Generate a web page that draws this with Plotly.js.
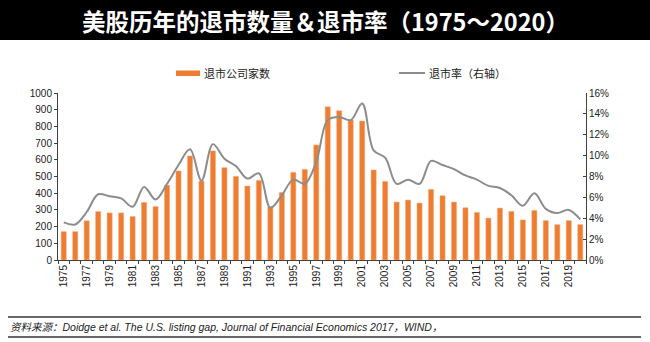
<!DOCTYPE html>
<html>
<head>
<meta charset="utf-8">
<script src="https://cdn.plot.ly/plotly-3.0.1.min.js"></script>
<style>
html,body{margin:0;padding:0;background:#fff;}
#chart{width:650px;height:342px;}
</style>
</head>
<body>
<div id="chart"></div>
<script>
// ---- data ----
var years = [1975,1976,1977,1978,1979,1980,1981,1982,1983,1984,1985,1986,1987,1988,1989,1990,1991,1992,1993,1994,1995,1996,1997,1998,1999,2000,2001,2002,2003,2004,2005,2006,2007,2008,2009,2010,2011,2012,2013,2014,2015,2016,2017,2018,2019,2020];
var delistCount = [170,170,235,290,282,282,260,345,320,448,533,623,473,653,553,501,443,477,319,405,525,543,689,918,894,838,832,539,471,347,359,341,423,385,347,313,285,251,311,291,240,297,236,212,236,212];
var delistRatePct = [3.6,3.4,4.6,6.3,6.1,5.9,5.1,7.0,5.8,7.3,9.1,10.6,7.6,11.1,9.7,9.0,7.8,8.3,5.0,6.2,7.7,7.3,9.4,13.4,13.7,13.4,15.0,10.5,9.8,7.3,7.7,7.3,9.5,9.1,8.7,8.1,7.7,7.1,6.9,6.2,5.2,6.4,4.9,4.5,4.8,3.9];
var labelYears = [1975,1977,1979,1981,1983,1985,1987,1989,1991,1993,1995,1997,1999,2001,2003,2005,2007,2009,2011,2013,2015,2017,2019];
var titleText = '美股历年的退市数量＆退市率（1975～2020）';
var barName = '退市公司家数';
var lineName = '退市率（右轴）';
var sourceText = '资料来源：Doidge et al. The U.S. listing gap, Journal of Financial Economics 2017，WIND，';

var delistRate = delistRatePct.map(function(v){return v/100;});

// ---- layout helpers (pixel -> paper) ----
var W = 650, H = 342, ML = 58, MR = 64, MT = 93, MB = 82;
var PW = W - ML - MR, PH = H - MT - MB;
function px(x){return (x - ML)/PW;}
function py(y){return (H - MB - y)/PH;}

var tickFont = {family:'Liberation Sans, Arial, sans-serif', size:10, color:'#222'};
var cjk = 'Noto Sans CJK SC, sans-serif';

var traces = [
  {type:'bar', x:years, y:delistCount, name:barName, width:0.45,
   marker:{color:'#ED7D31', line:{color:'#F4B183', width:0.5}}, hoverinfo:'x+y'},
  {type:'scatter', mode:'lines', x:years, y:delistRate, name:lineName, yaxis:'y2',
   line:{color:'#8C8C8C', width:2, shape:'spline', smoothing:1}}
];

var layout = {
  width:W, height:H,
  margin:{l:ML, r:MR, t:MT, b:MB, pad:0},
  paper_bgcolor:'#fff', plot_bgcolor:'#fff',
  showlegend:false,
  xaxis:{range:[1974.5,2020.5], tickvals:labelYears, ticktext:labelYears.map(String),
    tickangle:-90, tickfont:tickFont, ticks:'', showgrid:false, zeroline:false,
    showline:true, linecolor:'#404040', linewidth:1,
    minor:{ticks:'outside', tick0:1974.5, dtick:1, ticklen:3, tickcolor:'#404040', showgrid:false}},
  yaxis:{range:[0,1000], dtick:100, tickfont:tickFont, ticks:'outside', ticklen:3,
    tickcolor:'#404040', showline:true, linecolor:'#404040', linewidth:1,
    showgrid:false, zeroline:false, fixedrange:true},
  yaxis2:{range:[0,0.16], dtick:0.02, tickformat:'.0%', overlaying:'y', side:'right',
    tickfont:tickFont, ticks:'inside', ticklen:3, tickcolor:'#404040',
    showline:true, linecolor:'#404040', linewidth:1, showgrid:false, zeroline:false},
  shapes:[
    {type:'rect', xref:'paper', yref:'paper', x0:px(0), x1:px(W), y0:py(40), y1:py(0),
     fillcolor:'#000', line:{width:0}, layer:'below'},
    {type:'rect', xref:'paper', yref:'paper', x0:px(176), x1:px(200), y0:py(76), y1:py(70.5),
     fillcolor:'#ED7D31', line:{width:0}},
    {type:'line', xref:'paper', yref:'paper', x0:px(399), x1:px(425), y0:py(73), y1:py(73),
     line:{color:'#8C8C8C', width:2}},
    {type:'line', xref:'paper', yref:'paper', x0:px(8), x1:px(641), y0:py(317), y1:py(317),
     line:{color:'#333', width:1.5}},
    {type:'line', xref:'paper', yref:'paper', x0:px(8), x1:px(641), y0:py(337), y1:py(337),
     line:{color:'#333', width:1.5}}
  ],
  annotations:[
    {xref:'paper', yref:'paper', x:px(325), y:py(21), text:'<b>'+titleText+'</b>',
     showarrow:false, xanchor:'center', yanchor:'middle',
     font:{family:cjk, size:23.5, color:'#fff'}},
    {xref:'paper', yref:'paper', x:px(202), y:py(73), text:barName, showarrow:false,
     xanchor:'left', yanchor:'middle', font:{family:cjk, size:11, color:'#222'}},
    {xref:'paper', yref:'paper', x:px(427), y:py(73), text:lineName, showarrow:false,
     xanchor:'left', yanchor:'middle', font:{family:cjk, size:11, color:'#222'}},
    {xref:'paper', yref:'paper', x:px(8), y:py(327), text:'<i>'+sourceText+'</i>', showarrow:false,
     xanchor:'left', yanchor:'middle', font:{family:'Liberation Sans, Arial, Noto Sans CJK SC, sans-serif', size:10.5, color:'#222'}}
  ]
};

Plotly.newPlot('chart', traces, layout, {displayModeBar:false, staticPlot:true});
</script>
</body>
</html>
